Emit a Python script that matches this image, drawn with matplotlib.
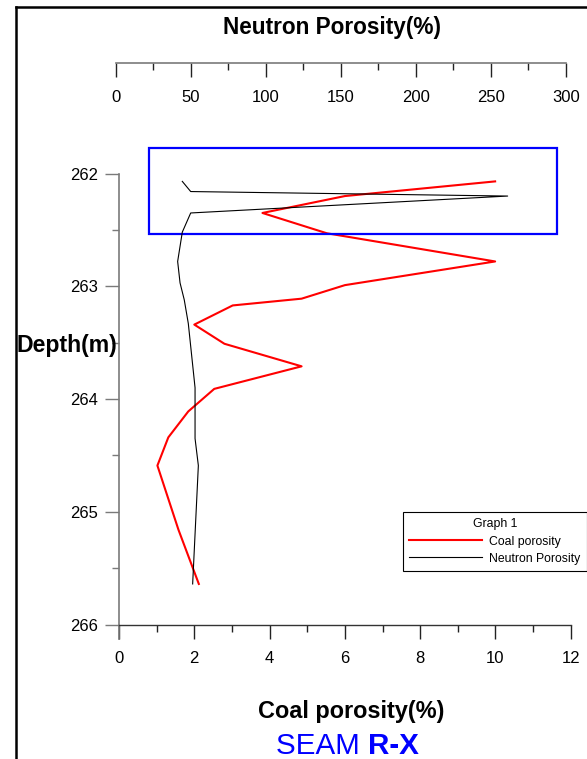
import matplotlib
matplotlib.use('Agg')
import matplotlib.pyplot as plt
from matplotlib.patches import Rectangle
from matplotlib.lines import Line2D
from matplotlib.ticker import MultipleLocator

# ---------------- data ----------------
coal_porosity = [9.99, 6.00, 3.81, 5.52, 9.99, 6.00, 4.85, 3.02, 2.00, 2.80, 4.85, 2.53, 1.84, 1.31, 1.02, 1.58, 2.12]
coal_depth = [262.07, 262.20, 262.35, 262.53, 262.78, 262.99, 263.11, 263.17, 263.34, 263.51, 263.71, 263.91, 264.11, 264.34, 264.59, 265.16, 265.64]
neutron_porosity = [44.4, 50.0, 261.3, 50.0, 44.4, 41.3, 42.9, 45.7, 48.4, 52.9, 52.9, 55.1, 51.3]
neutron_depth = [262.07, 262.16, 262.20, 262.35, 262.52, 262.78, 262.97, 263.12, 263.33, 263.90, 264.35, 264.59, 265.64]
highlight_x = [0.81, 11.64]
highlight_depth = [261.77, 262.54]
coal_ticks = [0, 2, 4, 6, 8, 10, 12]
neutron_ticks = [0, 50, 100, 150, 200, 250, 300]
depth_ticks = [262, 263, 264, 265, 266]

W, H = 587, 759
fig = plt.figure(figsize=(W / 100, H / 100), dpi=100)
fig.patch.set_facecolor('white')

def fx(px):
    return px / W

def fy(py):
    return 1 - py / H

plt.rcParams['font.family'] = ['Liberation Sans', 'DejaVu Sans']
GRAY = '#7a7a7a'
TICKDARK = '#222222'
y_top, y_bot = 261.6, 266.13
ax_bottom = fy(639.2)
ax_height = fy(128.4) - ax_bottom
TICK_FS = 12

# main axes (coal porosity vs depth)
ax = fig.add_axes([fx(119), ax_bottom, 451.8 / W, ax_height])
ax.set_xlim(0, 12)
ax.set_ylim(y_bot, y_top)
ax.patch.set_alpha(0)
for s in ['top', 'right']:
    ax.spines[s].set_visible(False)
ax.spines['left'].set_bounds(262, y_bot)
ax.spines['left'].set_color(GRAY)
ax.spines['left'].set_linewidth(1.2)
ax.spines['bottom'].set_position(('data', 266))
ax.spines['bottom'].set_bounds(0, 12)
ax.spines['bottom'].set_color('#333333')
ax.spines['bottom'].set_linewidth(1.0)
ax.set_xticks(coal_ticks)
ax.xaxis.set_minor_locator(MultipleLocator(1))
ax.set_yticks(depth_ticks)
ax.yaxis.set_minor_locator(MultipleLocator(0.5))
ax.tick_params(axis='both', which='major', direction='out', length=10, width=1.0,
               color=GRAY, labelsize=TICK_FS, labelcolor='black')
ax.tick_params(axis='both', which='minor', direction='out', length=5, width=1.0, color=GRAY)
ax.tick_params(axis='x', which='both', color=TICKDARK)
ax.tick_params(axis='x', which='major', pad=9)
ax.tick_params(axis='y', which='major', pad=5)

coal_line, = ax.plot(coal_porosity, coal_depth, color='#ff0000', lw=1.5, zorder=4)
ax.add_patch(Rectangle((highlight_x[0], highlight_depth[0]),
                       highlight_x[1] - highlight_x[0],
                       highlight_depth[1] - highlight_depth[0],
                       fill=False, edgecolor='#0000ff', lw=1.6, zorder=5))

# neutron axes overlay
axn = fig.add_axes([fx(115.7), ax_bottom, 450 / W, ax_height])
axn.set_xlim(0, 300)
axn.set_ylim(y_bot, y_top)
axn.axis('off')
axn.patch.set_alpha(0)
neutron_line, = axn.plot(neutron_porosity, neutron_depth, color='black', lw=0.8, zorder=3)

# top neutron axis
axt = fig.add_axes([fx(115.7), fy(63.3), 450 / W, 0.005])
axt.set_xlim(0, 300)
axt.patch.set_alpha(0)
for s in ['top', 'right', 'left']:
    axt.spines[s].set_visible(False)
axt.spines['bottom'].set_color(GRAY)
axt.spines['bottom'].set_linewidth(1.2)
axt.set_yticks([])
axt.set_xticks(neutron_ticks)
axt.xaxis.set_minor_locator(MultipleLocator(25))
axt.tick_params(axis='x', which='major', direction='out', length=10, width=1.0,
                color=TICKDARK, labelsize=TICK_FS, pad=9)
axt.tick_params(axis='x', which='minor', direction='out', length=5, width=1.0, color=TICKDARK)

# texts, sized to match their widths in the reference
renderer = fig.canvas.get_renderer()

def fitted_text(x_px, y_px, s, width_px, ha='center', **kw):
    t = fig.text(fx(x_px), fy(y_px), s, ha=ha, va='baseline', fontsize=20, **kw)
    w = t.get_window_extent(renderer).width
    t.set_fontsize(20 * width_px / w)
    return t

fitted_text(331.5, 34, 'Neutron Porosity(%)', 219, fontweight='bold')
fitted_text(351, 718.3, 'Coal porosity(%)', 186, fontweight='bold')
fitted_text(16, 351.7, 'Depth(m)', 101, ha='left', fontweight='bold')
t_seam = fitted_text(276, 754, 'SEAM ', 92, ha='left', color='#0000ff')
bb = t_seam.get_window_extent(renderer)
fig.text(bb.x1 / W, fy(754), 'R-X', ha='left', va='baseline',
         fontsize=t_seam.get_fontsize(), fontweight='bold', color='#0000ff')

# legend
leg = ax.legend([coal_line, neutron_line], ['Coal porosity', 'Neutron Porosity'],
                title='Graph 1', loc='upper left',
                bbox_to_anchor=(fx(402.7), fy(511.7)), bbox_transform=fig.transFigure,
                fontsize=8.8, title_fontsize=8.8, frameon=True, fancybox=False,
                edgecolor='black', framealpha=1, handlelength=5.9, handletextpad=0.65,
                borderpad=0.55, labelspacing=0.42, borderaxespad=0)
leg.get_frame().set_linewidth(0.8)

# outer frame lines
fig.add_artist(Line2D([fx(16), fx(16)], [fy(6.7), 0], transform=fig.transFigure,
                      color='black', lw=1.8))
fig.add_artist(Line2D([fx(16), 1], [fy(6.7), fy(6.7)], transform=fig.transFigure,
                      color='black', lw=1.8))

fig.savefig('out.png', dpi=100)
